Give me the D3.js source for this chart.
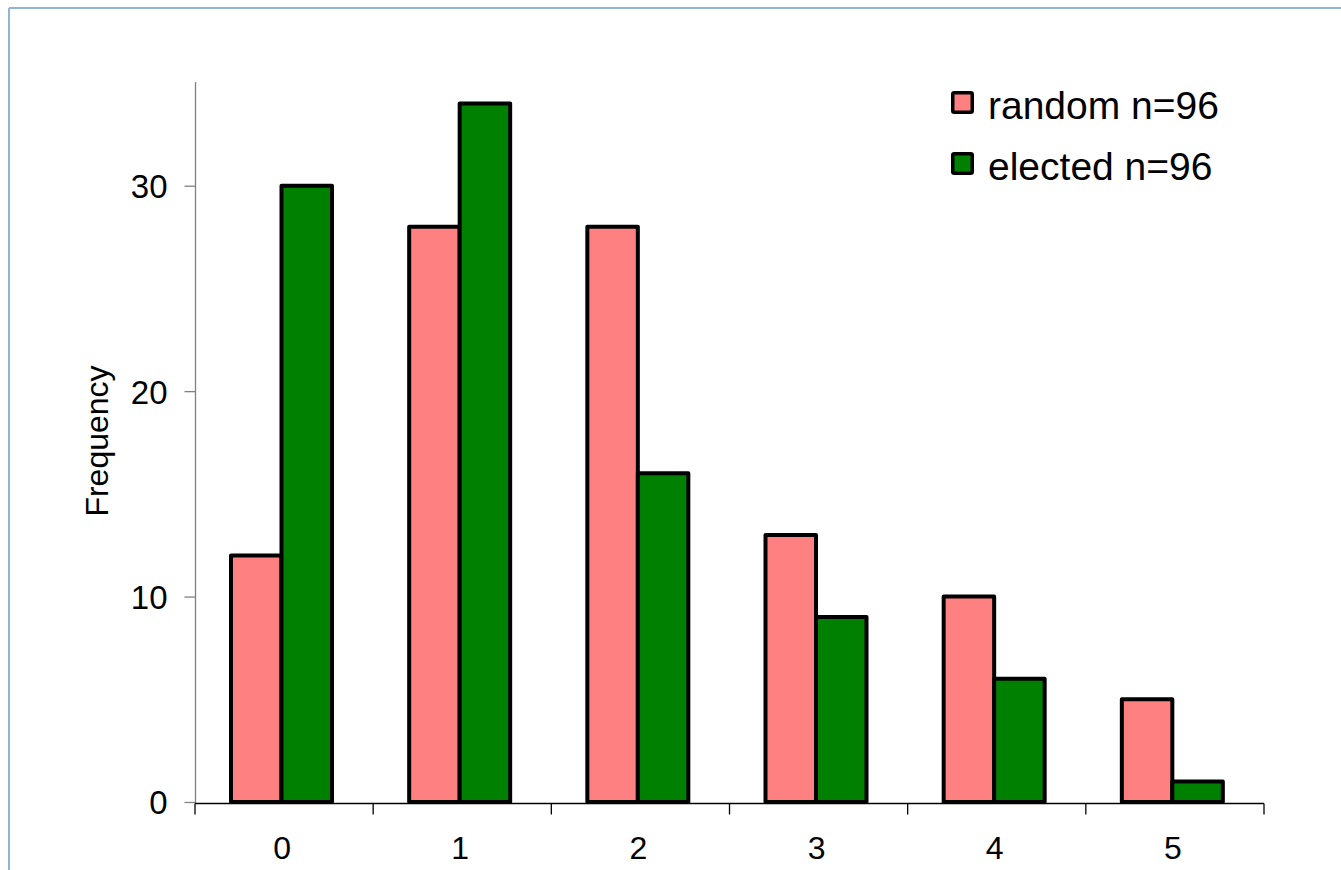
<!DOCTYPE html>
<html>
<head>
<meta charset="utf-8">
<script src="https://cdn.jsdelivr.net/npm/d3@7"></script>
<style>
  html, body { margin: 0; padding: 0; background: #fff; }
  svg { display: block; }
  text { font-family: Arial, "Liberation Sans", sans-serif; fill: #000; }
</style>
</head>
<body>
<svg id="chart" width="1341" height="870"></svg>
<script>
const categories = ["0", "1", "2", "3", "4", "5"];
const seriesNames = ["random n=96", "elected n=96"];
const randomValues = [12, 28, 28, 13, 10, 5];
const electedValues = [30, 34, 16, 9, 6, 1];
const yTicks = [0, 10, 20, 30];
const colors = ["#FF8080", "#008000"];

const svg = d3.select("#chart");

// outer frame
svg.append("line").attr("x1", 9).attr("x2", 1341).attr("y1", 8).attr("y2", 8)
  .attr("stroke", "#95B3D7").attr("stroke-width", 2);
svg.append("line").attr("x1", 9).attr("x2", 9).attr("y1", 8).attr("y2", 870)
  .attr("stroke", "#95B3D7").attr("stroke-width", 2);

const x0 = d3.scaleBand().domain(categories).range([195, 1264]).padding(0);
const x1 = d3.scaleBand().domain([0, 1]).range([36, 137]).padding(0);
const y = d3.scaleLinear().domain([0, 35]).range([802, 83]);

const data = categories.map((c, i) => ({ cat: c, vals: [randomValues[i], electedValues[i]] }));

// bars
const groups = svg.append("g").selectAll("g").data(data).join("g")
  .attr("transform", d => `translate(${x0(d.cat)},0)`);
groups.selectAll("rect").data(d => d.vals.map((v, k) => ({ v, k }))).join("rect")
  .attr("x", d => x1(d.k))
  .attr("width", x1.bandwidth())
  .attr("y", d => y(d.v))
  .attr("height", d => y(0) - y(d.v))
  .attr("fill", d => colors[d.k])
  .attr("stroke", "#000")
  .attr("stroke-width", 4)
  .attr("stroke-linejoin", "round");

// y axis
const yAxis = svg.append("g").attr("transform", "translate(195.5,0)")
  .call(d3.axisLeft(y).tickValues(yTicks).tickSize(11).tickPadding(17).tickFormat(d3.format("d")));
yAxis.select(".domain").attr("stroke", "#808080").attr("stroke-width", 1.3)
  .attr("d", `M0,${y(35) - 1}V${y(0) + 1}`);
yAxis.selectAll(".tick line").attr("stroke", "#808080").attr("stroke-width", 1.3);
yAxis.selectAll(".tick text").style("font-size", "33px").attr("dy", "0.36em").attr("font-family", null);

// x axis
const xAxis = svg.append("g").attr("transform", `translate(0,${y(0) + 1.5})`)
  .call(d3.axisBottom(x0).tickSize(0).tickPadding(33));
xAxis.select(".domain").attr("stroke", "#000").attr("stroke-width", 1.5)
  .attr("d", `M${x0.range()[0]},0H${x0.range()[1]}`);
xAxis.selectAll(".tick text").style("font-size", "32px").attr("dx", -2).attr("font-family", null);
// boundary ticks between categories
const boundaries = categories.map(c => x0(c)).concat([x0.range()[1]]);
xAxis.append("g").selectAll("line").data(boundaries).join("line")
  .attr("x1", d => d).attr("x2", d => d).attr("y1", 0).attr("y2", 11)
  .attr("stroke", "#000").attr("stroke-width", 1.3);

// y label
svg.append("text")
  .attr("transform", "translate(108,441) rotate(-90)")
  .attr("text-anchor", "middle")
  .style("font-size", "32px")
  .text("Frequency");

// legend
const legend = svg.append("g").attr("transform", "translate(951,91)");
seriesNames.forEach((name, i) => {
  const g = legend.append("g").attr("transform", `translate(0,${i * 61})`);
  g.append("rect").attr("x", 1.75).attr("y", 1.75).attr("width", 19.5).attr("height", 19.5)
    .attr("fill", colors[i]).attr("stroke", "#000").attr("stroke-width", 3.5)
    .attr("rx", 1.5);
  g.append("text").attr("x", 37).attr("y", 28).style("font-size", "39px").text(name);
});
</script>
</body>
</html>
